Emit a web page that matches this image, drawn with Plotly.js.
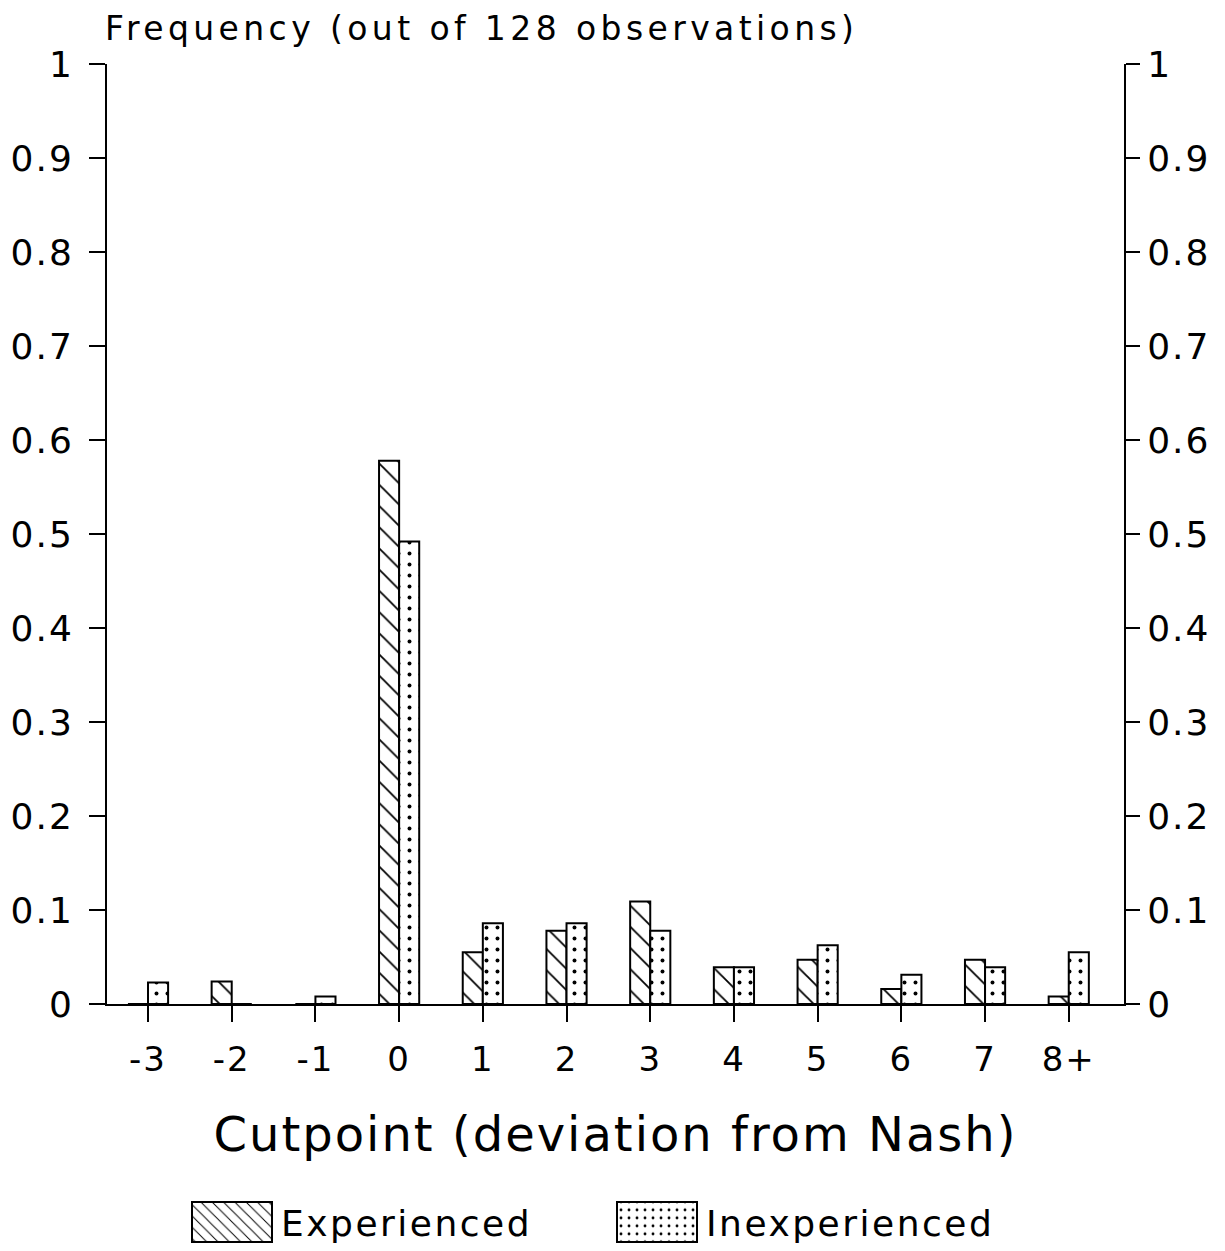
<!DOCTYPE html>
<html>
<head>
<meta charset="utf-8">
<script src="https://cdn.plot.ly/plotly-3.0.1.min.js"></script>
<style>
html,body{margin:0;padding:0;background:#fff;}
#chart{width:1225px;height:1251px;}
.gtitle{letter-spacing:4.4px;}
.xtitle{letter-spacing:2px;}
.legendtext{letter-spacing:2.5px;}
.ytick text, .y2tick text, .xtick text{letter-spacing:2px;}
</style>
</head>
<body>
<div id="chart"></div>
<script>
const categories = ["-3", "-2", "-1", "0", "1", "2", "3", "4", "5", "6", "7", "8+"];
const experienced = [0, 0.024, 0, 0.578, 0.055, 0.078, 0.109, 0.039, 0.047, 0.016, 0.047, 0.008];
const inexperienced = [0.023, 0, 0.008, 0.492, 0.086, 0.086, 0.078, 0.039, 0.0625, 0.031, 0.039, 0.055];
const yTickVals = [0, 0.1, 0.2, 0.3, 0.4, 0.5, 0.6, 0.7, 0.8, 0.9, 1];
const yTickText = ["0", "0.1", "0.2", "0.3", "0.4", "0.5", "0.6", "0.7", "0.8", "0.9", "1"];

const idx = categories.map((c, i) => i);
const FONT = "DejaVu Sans, sans-serif";

const traces = [
  {
    type: "bar", name: "Experienced", x: idx, y: experienced,
    width: 0.24, offset: -0.24,
    marker: {color: "white", line: {color: "black", width: 2},
      pattern: {shape: "\\", fgcolor: "black", bgcolor: "white", size: 15, solidity: 0.12}},
    hoverinfo: "skip"
  },
  {
    type: "bar", name: "Inexperienced", x: idx, y: inexperienced,
    width: 0.24, offset: 0,
    marker: {color: "white", line: {color: "black", width: 2},
      pattern: {shape: ".", fgcolor: "black", bgcolor: "white", size: 11, solidity: 0.1}},
    hoverinfo: "skip"
  },
  {
    type: "scatter", x: [0], y: [0], yaxis: "y2", showlegend: false,
    mode: "none", hoverinfo: "skip"
  }
];

const layout = {
  width: 1225, height: 1251,
  paper_bgcolor: "white", plot_bgcolor: "white",
  margin: {l: 107, r: 101, t: 64, b: 247, autoexpand: false},
  font: {family: FONT, color: "black", size: 36},
  title: {
    text: "Frequency (out of 128 observations)",
    x: 105 / 1225, xref: "container", xanchor: "left",
    y: 1 - 28 / 1251, yref: "container", yanchor: "middle",
    font: {size: 33, family: FONT, color: "black"}
  },
  barmode: "overlay",
  showlegend: true,
  legend: {
    orientation: "h",
    xref: "container", x: 183 / 1225, xanchor: "left",
    yref: "container", y: 29 / 1251, yanchor: "middle",
    font: {size: 36, family: FONT, color: "black"},
    itemwidth: 88, traceorder: "normal",
    entrywidth: 322, entrywidthmode: "pixels",
    borderwidth: 0
  },
  xaxis: {
    range: [-0.49, 11.66],
    tickmode: "array", tickvals: idx, ticktext: categories,
    showline: true, linecolor: "black", linewidth: 2,
    ticks: "outside", ticklen: 16, tickwidth: 2, tickcolor: "black",
    ticklabelstandoff: 8,
    showgrid: false, zeroline: false,
    tickfont: {size: 34},
    title: {text: "Cutpoint (deviation from Nash)", font: {size: 48, family: FONT}, standoff: 40}
  },
  yaxis: {
    range: [0, 1], tickmode: "array", tickvals: yTickVals, ticktext: yTickText,
    showline: true, linecolor: "black", linewidth: 2,
    ticks: "outside", ticklen: 16, tickwidth: 2, tickcolor: "black",
    ticklabelstandoff: 8,
    showgrid: false, zeroline: false, tickfont: {size: 36}
  },
  yaxis2: {
    range: [0, 1], overlaying: "y", side: "right",
    tickmode: "array", tickvals: yTickVals, ticktext: yTickText,
    showline: true, linecolor: "black", linewidth: 2,
    ticks: "outside", ticklen: 14, tickwidth: 2, tickcolor: "black",
    ticklabelstandoff: 0,
    showgrid: false, zeroline: false, tickfont: {size: 36}
  }
};

Plotly.newPlot("chart", traces, layout, {staticPlot: true}).then(function (gd) {
  // enlarge legend swatches to match the reference's big patterned boxes
  document.querySelectorAll(".legend .legendpoints path").forEach(function (p) {
    p.setAttribute("d", "M40,20H-40V-20H40Z");
  });
});
</script>
</body>
</html>
